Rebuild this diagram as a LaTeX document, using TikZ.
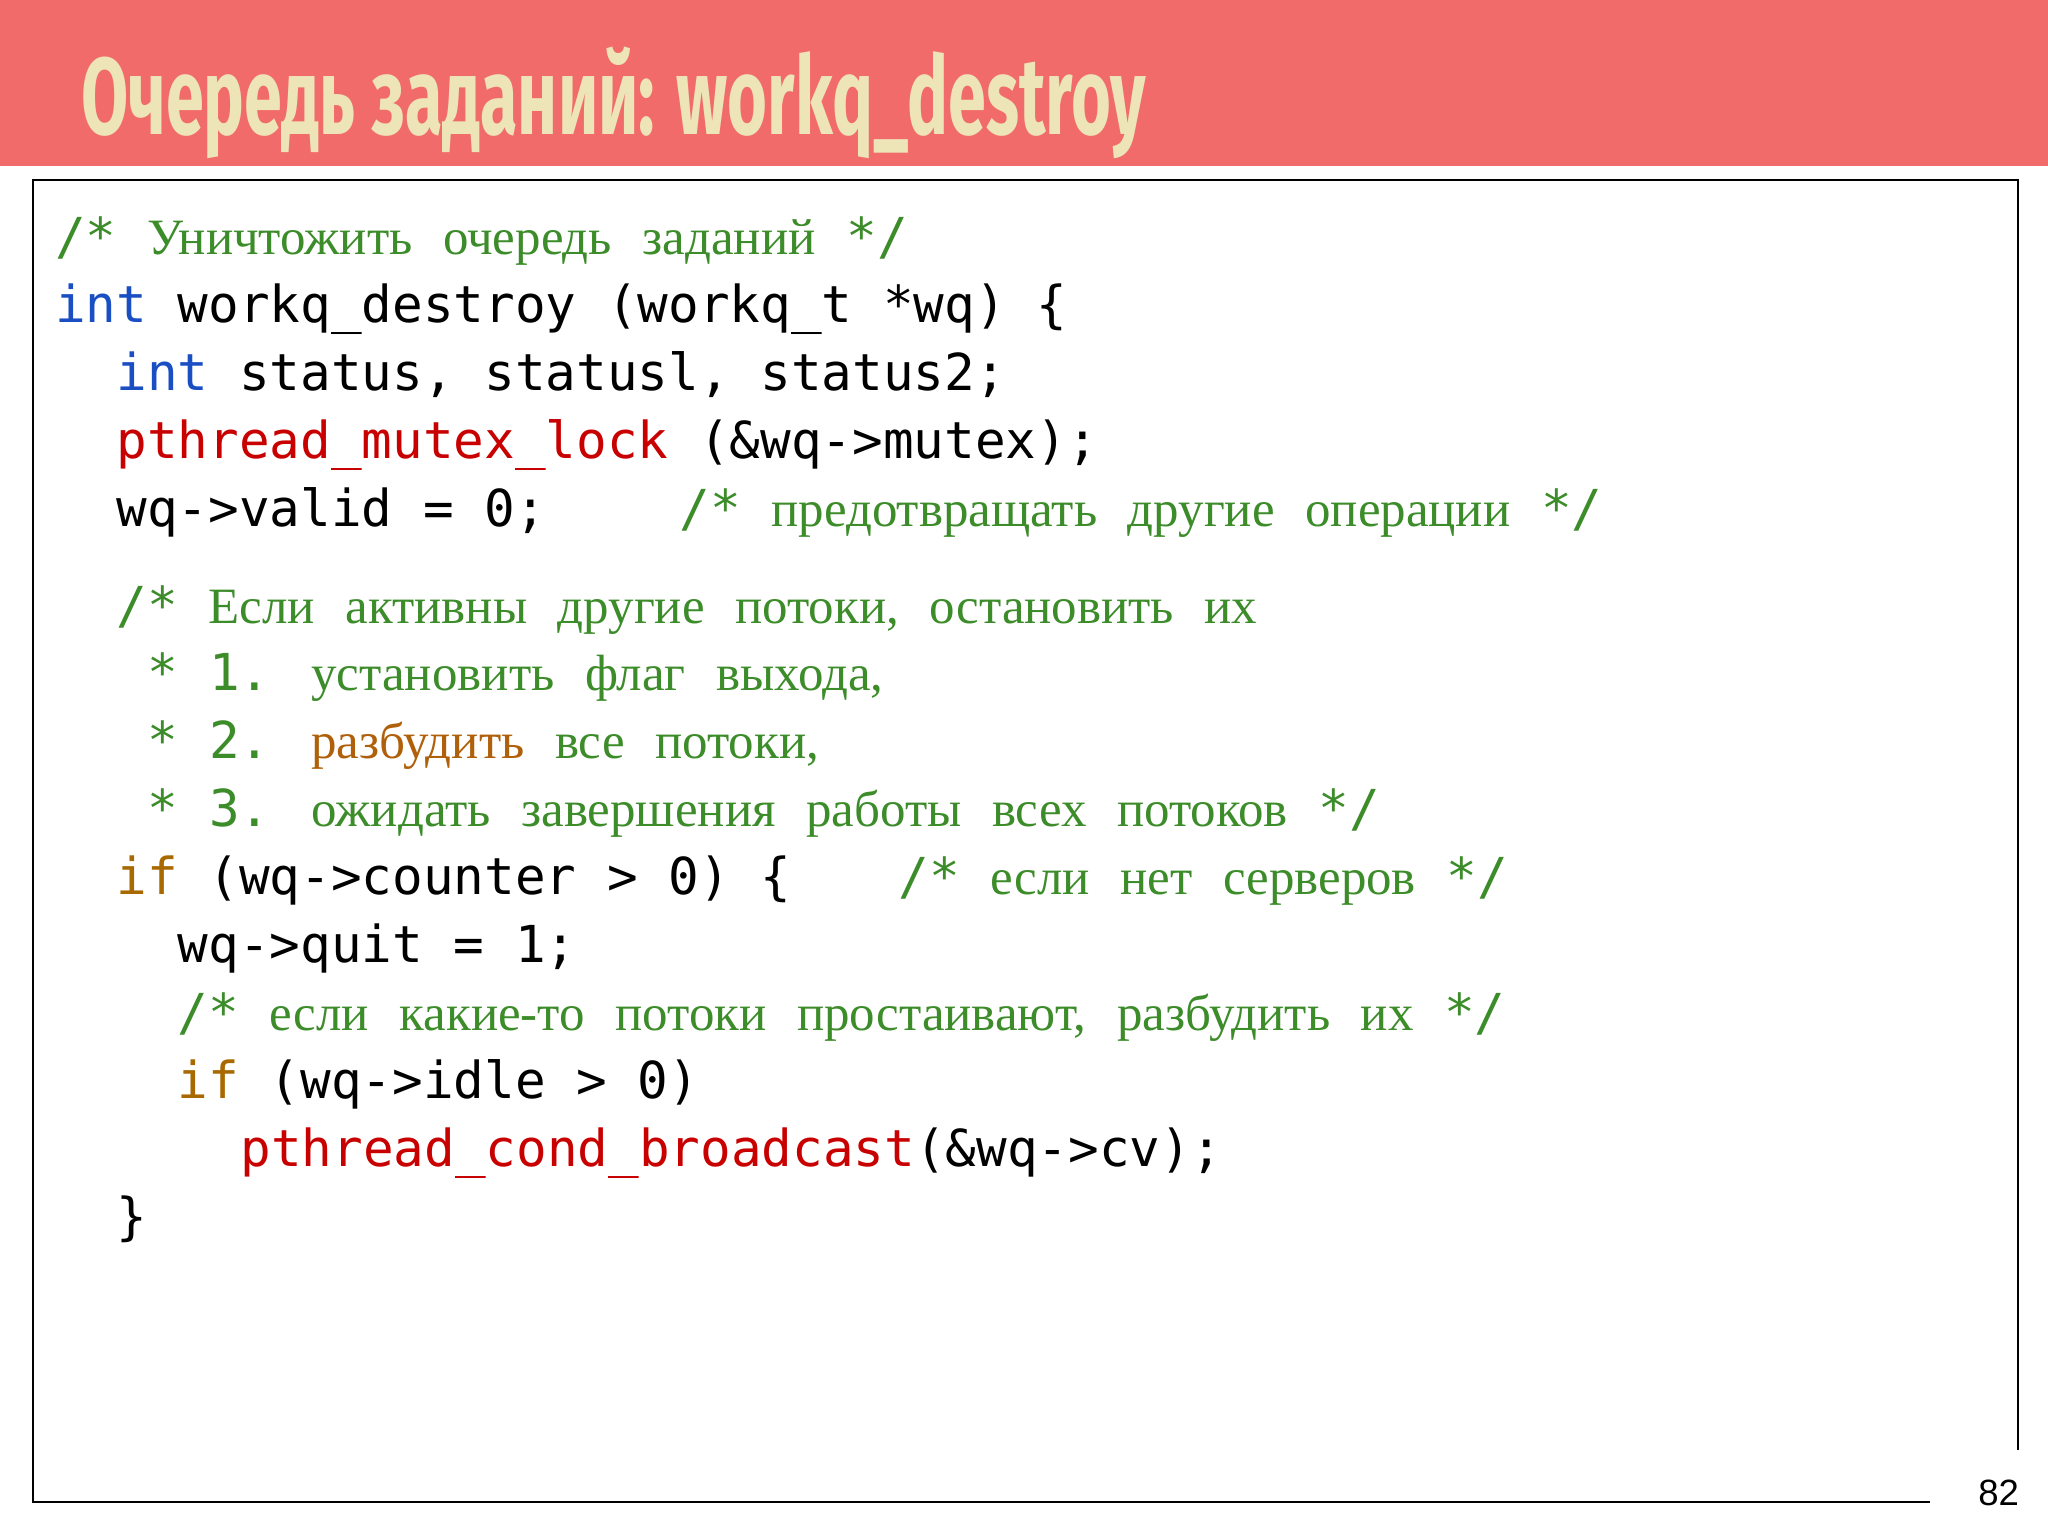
\documentclass[tikz,border=0pt]{standalone}
\usepackage{fontspec}
\setmainfont{Liberation Serif}
\newfontfamily\mono{DejaVu Sans Mono}
\newfontfamily\rufont{Liberation Serif}[WordSpace={2.4}]
\newfontfamily\titlefont{Fira Sans}
\definecolor{bar}{HTML}{F26B6B}
\definecolor{cream}{HTML}{EDE4B8}
\definecolor{cm}{HTML}{3C8C2A}
\definecolor{kw}{HTML}{1A4FC4}
\definecolor{rd}{HTML}{C80000}
\definecolor{br}{HTML}{A86A00}
\definecolor{wk}{HTML}{B0600A}
\newcommand{\ru}[1]{{\rufont #1}}
\tikzset{code/.style={anchor=base west,inner sep=0pt,font=\mono\fontsize{39}{39}\selectfont},
 cmt/.style={code,text=cm}}
\begin{document}
\begin{tikzpicture}[x=1pt,y=-1pt]
\useasboundingbox (0,0) rectangle (1568,1176);
\fill[white] (0,0) rectangle (1568,1176);
\fill[bar] (0,0) rectangle (1568,127);
\node[anchor=north west,inner sep=0pt,text=cream] (title) at (62,36) {\resizebox{815pt}{67pt}{\titlefont\bfseries Очередь заданий: workq\_destroy}};
\draw[line width=1.5pt] (1545,1110) -- (1545,138) -- (25,138) -- (25,1150) -- (1478,1150);
\node[anchor=base east,inner sep=0pt,font=\fontspec{Liberation Sans}\fontsize{28}{28}\selectfont] (pg) at (1546,1153) {82};
\node[cmt] (l1) at (42,195) {/* \ru{Уничтожить очередь заданий} */};
\node[code] (l2) at (42,247) {\textcolor{kw}{int} workq\_destroy (workq\_t *wq) \{};
\node[code] (l3) at (89,299) {\textcolor{kw}{int} status, statusl, status2;};
\node[code] (l4) at (89,351) {\textcolor{rd}{pthread\_mutex\_lock} (\&wq->mutex);};
\node[code] (l5) at (89,403) {wq->valid = 0;};
\node[cmt] (l5c) at (520,403) {/* \ru{предотвращать другие операции} */};
\node[cmt] (l6) at (89,477) {/* \ru{Если активны другие потоки,} \ru{остановить их}};
\node[cmt] (l7) at (113,529) {* 1. \ru{установить флаг выхода,}};
\node[cmt] (l8) at (113,581) {* 2. \ru{\textcolor{wk}{разбудить} все потоки,}};
\node[cmt] (l9) at (113,633) {* 3. \ru{ожидать завершения работы всех потоков} */};
\node[code] (l10) at (89,685) {\textcolor{br}{if} (wq->counter > 0) \{};
\node[cmt] (l10c) at (688,685) {/* \ru{если нет серверов} */};
\node[code] (l11) at (136,737) {wq->quit = 1;};
\node[cmt] (l12) at (136,789) {/* \ru{если какие-то потоки простаивают,} \ru{разбудить их} */};
\node[code] (l13) at (136,841) {\textcolor{br}{if} (wq->idle > 0)};
\node[code] (l14) at (184,893) {\textcolor{rd}{pthread\_cond\_broadcast}(\&wq->cv);};
\node[code] (l15) at (89,945) {\}};
\end{tikzpicture}
\end{document}
